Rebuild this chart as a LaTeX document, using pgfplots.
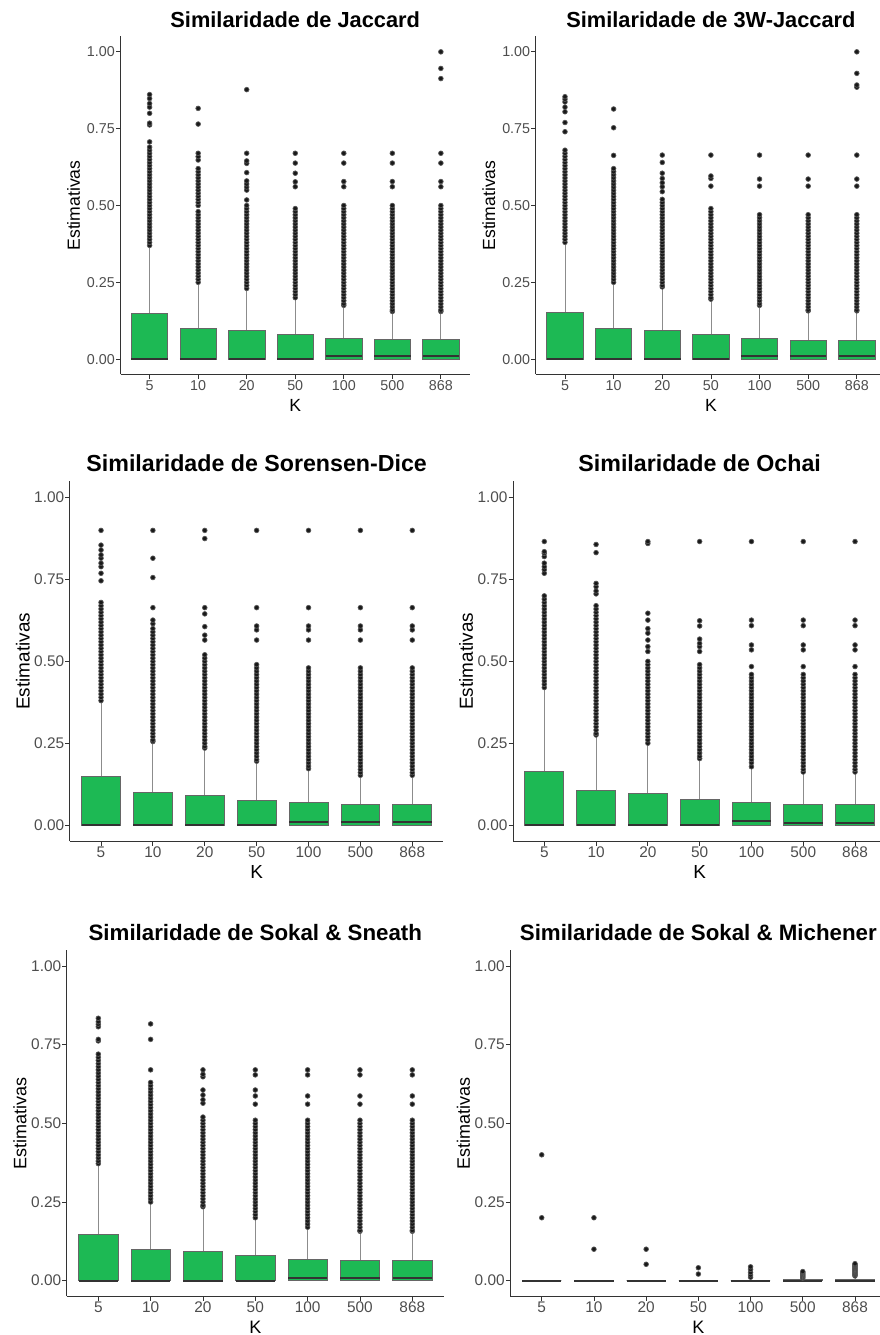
\documentclass[border=0pt]{standalone}
\usepackage{pgfplots}
\pgfplotsset{compat=1.18}
\usepgfplotslibrary{statistics}
\usepackage{fontspec}
\setmainfont{Liberation Sans}
\definecolor{boxgreen}{HTML}{1DB954}
\definecolor{tickgray}{HTML}{4D4D4D}

\pgfplotsset{
 bxs/.style={boxplot/draw direction=y, mark=*, mark size=2.35pt, mark options={draw=none, fill=black!90}, draw=black!65, line width=0.7pt,
   boxplot/box extend=0.75, boxplot/whisker extend=0,
   boxplot/every box/.style={fill=boxgreen, draw=black!60, line width=0.8pt},
   boxplot/every whisker/.style={draw=black!45, line width=0.8pt},
   boxplot/every median/.style={draw=black!80, line width=1.9pt}},
 panel/.style={scale only axis, xmin=0.4, xmax=7.6, ymin=-0.05, ymax=1.05,
   axis x line=bottom, axis y line=left,
   axis line style={-, line width=1.1pt, draw=black!80},
   tick align=outside, major tick length=4.5pt,
   tick style={draw=black!80, line width=0.8pt},
   xtick={1,2,3,4,5,6,7}, xticklabels={5,10,20,50,100,500,868},
   ytick={0,0.25,0.5,0.75,1}, yticklabels={0.00,0.25,0.50,0.75,1.00},
   /pgf/number format/assume math mode=true,
   ticklabel style={text=tickgray, inner sep=1pt},
   xlabel={K}, ylabel={Estimativas},
   every axis x label/.style={at={([yshift=-31pt]axis description cs:0.5,0)}, anchor=center},
   every axis y label/.style={at={([xshift=-47pt]axis description cs:0,0.5)}, anchor=center, rotate=90},
   every axis title/.style={at={(axis description cs:0.5,1)}, anchor=base, yshift=9.3pt},
 },
 rowA/.style={ticklabel style={font=\fontsize{14.3}{16}\selectfont}, label style={font=\fontsize{17.6}{20}\selectfont}, title style={font=\fontsize{21.8}{24}\selectfont\bfseries}},
 rowB/.style={ticklabel style={font=\fontsize{15.4}{17}\selectfont}, label style={font=\fontsize{18.9}{21}\selectfont}, title style={font=\fontsize{23.2}{26}\selectfont\bfseries}},
 rowC/.style={ticklabel style={font=\fontsize{15.4}{17}\selectfont}, label style={font=\fontsize{18}{20}\selectfont}, title style={font=\fontsize{22.3}{25}\selectfont\bfseries}},
}
\newcommand\bp[5]{\addplot[bxs, boxplot prepared={draw position=#1, lower whisker=0, lower quartile=0, median=#2, upper quartile=#3, upper whisker=#4}] table[row sep=\\, y index=0] {#5};}

\begin{document}
\begin{tikzpicture}
\useasboundingbox (0pt,0pt) rectangle (879pt,1335pt);

% ---------- Jaccard
\begin{axis}[panel, rowA, at={(120.5pt,960.5pt)}, anchor=south west, width=349.5pt, height=338pt, title={Similaridade de Jaccard}]
\bp{1}{0}{0.150}{0.366}{0.37\\0.38\\0.39\\0.40\\0.41\\0.42\\0.43\\0.44\\0.45\\0.46\\0.47\\0.48\\0.49\\0.50\\0.51\\0.52\\0.53\\0.54\\0.55\\0.56\\0.57\\0.58\\0.59\\0.60\\0.61\\0.62\\0.63\\0.64\\0.65\\0.66\\0.67\\0.68\\0.69\\0.707\\0.762\\0.768\\0.80\\0.82\\0.832\\0.848\\0.861\\}
\bp{2}{0}{0.100}{0.247}{0.25\\0.26\\0.27\\0.28\\0.29\\0.30\\0.31\\0.32\\0.33\\0.34\\0.35\\0.36\\0.37\\0.38\\0.39\\0.40\\0.41\\0.42\\0.43\\0.44\\0.45\\0.46\\0.47\\0.48\\0.50\\0.51\\0.52\\0.53\\0.54\\0.55\\0.56\\0.57\\0.58\\0.59\\0.60\\0.61\\0.62\\0.648\\0.659\\0.67\\0.765\\0.816\\}
\bp{3}{0}{0.093}{0.227}{0.23\\0.24\\0.25\\0.26\\0.27\\0.28\\0.29\\0.30\\0.31\\0.32\\0.33\\0.34\\0.35\\0.36\\0.37\\0.38\\0.39\\0.40\\0.41\\0.42\\0.43\\0.44\\0.45\\0.46\\0.47\\0.48\\0.49\\0.50\\0.518\\0.55\\0.56\\0.57\\0.58\\0.607\\0.637\\0.645\\0.67\\0.877\\}
\bp{4}{0}{0.079}{0.195}{0.20\\0.21\\0.22\\0.23\\0.24\\0.25\\0.26\\0.27\\0.28\\0.29\\0.30\\0.31\\0.32\\0.33\\0.34\\0.35\\0.36\\0.37\\0.38\\0.39\\0.40\\0.41\\0.42\\0.43\\0.44\\0.45\\0.46\\0.47\\0.48\\0.49\\0.561\\0.577\\0.605\\0.638\\0.67\\}
\bp{5}{0.009}{0.068}{0.170}{0.175\\0.18\\0.19\\0.20\\0.21\\0.22\\0.23\\0.24\\0.25\\0.26\\0.27\\0.28\\0.29\\0.30\\0.31\\0.32\\0.33\\0.34\\0.35\\0.36\\0.37\\0.38\\0.39\\0.40\\0.41\\0.42\\0.43\\0.44\\0.45\\0.46\\0.47\\0.48\\0.49\\0.50\\0.561\\0.578\\0.638\\0.67\\}
\bp{6}{0.009}{0.063}{0.150}{0.155\\0.16\\0.17\\0.18\\0.19\\0.20\\0.21\\0.22\\0.23\\0.24\\0.25\\0.26\\0.27\\0.28\\0.29\\0.30\\0.31\\0.32\\0.33\\0.34\\0.35\\0.36\\0.37\\0.38\\0.39\\0.40\\0.41\\0.42\\0.43\\0.44\\0.45\\0.46\\0.47\\0.48\\0.49\\0.50\\0.561\\0.578\\0.638\\0.67\\}
\bp{7}{0.009}{0.063}{0.150}{0.155\\0.16\\0.17\\0.18\\0.19\\0.20\\0.21\\0.22\\0.23\\0.24\\0.25\\0.26\\0.27\\0.28\\0.29\\0.30\\0.31\\0.32\\0.33\\0.34\\0.35\\0.36\\0.37\\0.38\\0.39\\0.40\\0.41\\0.42\\0.43\\0.44\\0.45\\0.46\\0.47\\0.48\\0.49\\0.50\\0.561\\0.578\\0.638\\0.67\\0.913\\0.946\\1.0\\}
\end{axis}

% ---------- 3W-Jaccard
\begin{axis}[panel, rowA, at={(535.8pt,960.5pt)}, anchor=south west, width=350.2pt, height=338pt, title={Similaridade de 3W-Jaccard}]
\bp{1}{0}{0.153}{0.377}{0.38\\0.39\\0.40\\0.41\\0.42\\0.43\\0.44\\0.45\\0.46\\0.47\\0.48\\0.49\\0.50\\0.51\\0.52\\0.53\\0.54\\0.55\\0.56\\0.57\\0.58\\0.59\\0.60\\0.61\\0.62\\0.63\\0.64\\0.65\\0.66\\0.67\\0.68\\0.74\\0.77\\0.805\\0.82\\0.837\\0.846\\0.854\\}
\bp{2}{0}{0.100}{0.247}{0.25\\0.26\\0.27\\0.28\\0.29\\0.30\\0.31\\0.32\\0.33\\0.34\\0.35\\0.36\\0.37\\0.38\\0.39\\0.40\\0.41\\0.42\\0.43\\0.44\\0.45\\0.46\\0.47\\0.48\\0.49\\0.50\\0.51\\0.52\\0.53\\0.54\\0.55\\0.56\\0.57\\0.58\\0.59\\0.60\\0.61\\0.62\\0.663\\0.753\\0.814\\}
\bp{3}{0}{0.093}{0.230}{0.235\\0.24\\0.25\\0.26\\0.27\\0.28\\0.29\\0.30\\0.31\\0.32\\0.33\\0.34\\0.35\\0.36\\0.37\\0.38\\0.39\\0.40\\0.41\\0.42\\0.43\\0.44\\0.45\\0.46\\0.47\\0.48\\0.49\\0.50\\0.51\\0.52\\0.545\\0.561\\0.574\\0.588\\0.605\\0.64\\0.664\\}
\bp{4}{0}{0.079}{0.190}{0.195\\0.20\\0.21\\0.22\\0.23\\0.24\\0.25\\0.26\\0.27\\0.28\\0.29\\0.30\\0.31\\0.32\\0.33\\0.34\\0.35\\0.36\\0.37\\0.38\\0.39\\0.40\\0.41\\0.42\\0.43\\0.44\\0.45\\0.46\\0.47\\0.48\\0.49\\0.563\\0.588\\0.596\\0.664\\}
\bp{5}{0.009}{0.068}{0.171}{0.175\\0.18\\0.19\\0.20\\0.21\\0.22\\0.23\\0.24\\0.25\\0.26\\0.27\\0.28\\0.29\\0.30\\0.31\\0.32\\0.33\\0.34\\0.35\\0.36\\0.37\\0.38\\0.39\\0.40\\0.41\\0.42\\0.43\\0.44\\0.45\\0.46\\0.47\\0.563\\0.586\\0.664\\}
\bp{6}{0.009}{0.062}{0.153}{0.157\\0.16\\0.17\\0.18\\0.19\\0.20\\0.21\\0.22\\0.23\\0.24\\0.25\\0.26\\0.27\\0.28\\0.29\\0.30\\0.31\\0.32\\0.33\\0.34\\0.35\\0.36\\0.37\\0.38\\0.39\\0.40\\0.41\\0.42\\0.43\\0.44\\0.45\\0.46\\0.47\\0.563\\0.586\\0.664\\}
\bp{7}{0.009}{0.062}{0.153}{0.157\\0.16\\0.17\\0.18\\0.19\\0.20\\0.21\\0.22\\0.23\\0.24\\0.25\\0.26\\0.27\\0.28\\0.29\\0.30\\0.31\\0.32\\0.33\\0.34\\0.35\\0.36\\0.37\\0.38\\0.39\\0.40\\0.41\\0.42\\0.43\\0.44\\0.45\\0.46\\0.47\\0.563\\0.586\\0.664\\0.885\\0.892\\0.93\\1.0\\}
\end{axis}

% ---------- Sorensen-Dice
\begin{axis}[panel, rowB, at={(69.9pt,493.6pt)}, anchor=south west, width=373.5pt, height=360.1pt, title={Similaridade de Sorensen-Dice}]
\bp{1}{0}{0.148}{0.372}{0.38\\0.39\\0.40\\0.41\\0.42\\0.43\\0.44\\0.45\\0.46\\0.47\\0.48\\0.49\\0.50\\0.51\\0.52\\0.53\\0.54\\0.55\\0.56\\0.57\\0.58\\0.59\\0.60\\0.61\\0.62\\0.63\\0.64\\0.65\\0.66\\0.67\\0.68\\0.746\\0.769\\0.789\\0.80\\0.815\\0.825\\0.84\\0.855\\0.90\\}
\bp{2}{0}{0.100}{0.250}{0.255\\0.26\\0.27\\0.28\\0.29\\0.30\\0.31\\0.32\\0.33\\0.34\\0.35\\0.36\\0.37\\0.38\\0.39\\0.40\\0.41\\0.42\\0.43\\0.44\\0.45\\0.46\\0.47\\0.48\\0.49\\0.50\\0.51\\0.52\\0.53\\0.54\\0.55\\0.56\\0.57\\0.58\\0.59\\0.60\\0.615\\0.626\\0.664\\0.756\\0.815\\0.90\\}
\bp{3}{0}{0.092}{0.231}{0.235\\0.24\\0.25\\0.26\\0.27\\0.28\\0.29\\0.30\\0.31\\0.32\\0.33\\0.34\\0.35\\0.36\\0.37\\0.38\\0.39\\0.40\\0.41\\0.42\\0.43\\0.44\\0.45\\0.46\\0.47\\0.48\\0.49\\0.50\\0.51\\0.52\\0.565\\0.58\\0.606\\0.645\\0.664\\0.875\\0.90\\}
\bp{4}{0}{0.076}{0.190}{0.195\\0.20\\0.21\\0.22\\0.23\\0.24\\0.25\\0.26\\0.27\\0.28\\0.29\\0.30\\0.31\\0.32\\0.33\\0.34\\0.35\\0.36\\0.37\\0.38\\0.39\\0.40\\0.41\\0.42\\0.43\\0.44\\0.45\\0.46\\0.47\\0.48\\0.49\\0.565\\0.596\\0.608\\0.664\\0.90\\}
\bp{5}{0.008}{0.068}{0.168}{0.172\\0.18\\0.19\\0.20\\0.21\\0.22\\0.23\\0.24\\0.25\\0.26\\0.27\\0.28\\0.29\\0.30\\0.31\\0.32\\0.33\\0.34\\0.35\\0.36\\0.37\\0.38\\0.39\\0.40\\0.41\\0.42\\0.43\\0.44\\0.45\\0.46\\0.47\\0.48\\0.565\\0.596\\0.608\\0.664\\0.90\\}
\bp{6}{0.008}{0.063}{0.148}{0.152\\0.16\\0.17\\0.18\\0.19\\0.20\\0.21\\0.22\\0.23\\0.24\\0.25\\0.26\\0.27\\0.28\\0.29\\0.30\\0.31\\0.32\\0.33\\0.34\\0.35\\0.36\\0.37\\0.38\\0.39\\0.40\\0.41\\0.42\\0.43\\0.44\\0.45\\0.46\\0.47\\0.48\\0.565\\0.596\\0.608\\0.664\\0.90\\}
\bp{7}{0.008}{0.063}{0.148}{0.152\\0.16\\0.17\\0.18\\0.19\\0.20\\0.21\\0.22\\0.23\\0.24\\0.25\\0.26\\0.27\\0.28\\0.29\\0.30\\0.31\\0.32\\0.33\\0.34\\0.35\\0.36\\0.37\\0.38\\0.39\\0.40\\0.41\\0.42\\0.43\\0.44\\0.45\\0.46\\0.47\\0.48\\0.565\\0.596\\0.608\\0.664\\0.90\\}
\end{axis}

% ---------- Ochai
\begin{axis}[panel, rowB, at={(513.2pt,493.6pt)}, anchor=south west, width=372.9pt, height=360.1pt, title={Similaridade de Ochai}]
\bp{1}{0}{0.165}{0.418}{0.42\\0.43\\0.44\\0.45\\0.46\\0.47\\0.48\\0.49\\0.50\\0.51\\0.52\\0.53\\0.54\\0.55\\0.56\\0.57\\0.58\\0.59\\0.60\\0.61\\0.62\\0.63\\0.64\\0.65\\0.66\\0.67\\0.68\\0.69\\0.70\\0.769\\0.78\\0.789\\0.80\\0.82\\0.83\\0.835\\0.866\\}
\bp{2}{0}{0.107}{0.270}{0.275\\0.28\\0.29\\0.30\\0.31\\0.32\\0.33\\0.34\\0.35\\0.36\\0.37\\0.38\\0.39\\0.40\\0.41\\0.42\\0.43\\0.44\\0.45\\0.46\\0.47\\0.48\\0.49\\0.50\\0.51\\0.52\\0.53\\0.54\\0.55\\0.56\\0.57\\0.58\\0.59\\0.60\\0.61\\0.62\\0.63\\0.64\\0.65\\0.66\\0.67\\0.706\\0.715\\0.728\\0.738\\0.832\\0.857\\}
\bp{3}{0}{0.097}{0.244}{0.25\\0.26\\0.27\\0.28\\0.29\\0.30\\0.31\\0.32\\0.33\\0.34\\0.35\\0.36\\0.37\\0.38\\0.39\\0.40\\0.41\\0.42\\0.43\\0.44\\0.45\\0.46\\0.47\\0.48\\0.49\\0.50\\0.53\\0.545\\0.565\\0.586\\0.60\\0.626\\0.647\\0.86\\0.866\\}
\bp{4}{0}{0.079}{0.199}{0.203\\0.21\\0.22\\0.23\\0.24\\0.25\\0.26\\0.27\\0.28\\0.29\\0.30\\0.31\\0.32\\0.33\\0.34\\0.35\\0.36\\0.37\\0.38\\0.39\\0.40\\0.41\\0.42\\0.43\\0.44\\0.45\\0.46\\0.47\\0.48\\0.49\\0.53\\0.545\\0.555\\0.568\\0.608\\0.624\\0.866\\}
\bp{5}{0.012}{0.069}{0.173}{0.178\\0.19\\0.20\\0.21\\0.22\\0.23\\0.24\\0.25\\0.26\\0.27\\0.28\\0.29\\0.30\\0.31\\0.32\\0.33\\0.34\\0.35\\0.36\\0.37\\0.38\\0.39\\0.40\\0.41\\0.42\\0.43\\0.44\\0.45\\0.46\\0.484\\0.535\\0.55\\0.609\\0.626\\0.866\\}
\bp{6}{0.007}{0.063}{0.158}{0.162\\0.17\\0.18\\0.19\\0.20\\0.21\\0.22\\0.23\\0.24\\0.25\\0.26\\0.27\\0.28\\0.29\\0.30\\0.31\\0.32\\0.33\\0.34\\0.35\\0.36\\0.37\\0.38\\0.39\\0.40\\0.41\\0.42\\0.43\\0.44\\0.45\\0.46\\0.484\\0.535\\0.55\\0.609\\0.626\\0.866\\}
\bp{7}{0.007}{0.063}{0.158}{0.162\\0.17\\0.18\\0.19\\0.20\\0.21\\0.22\\0.23\\0.24\\0.25\\0.26\\0.27\\0.28\\0.29\\0.30\\0.31\\0.32\\0.33\\0.34\\0.35\\0.36\\0.37\\0.38\\0.39\\0.40\\0.41\\0.42\\0.43\\0.44\\0.45\\0.46\\0.484\\0.535\\0.55\\0.609\\0.626\\0.866\\}
\end{axis}

% ---------- Sokal & Sneath
\begin{axis}[panel, rowC, at={(66.9pt,38.6pt)}, anchor=south west, width=376.8pt, height=346.1pt, title={Similaridade de Sokal \& Sneath}]
\bp{1}{0}{0.147}{0.368}{0.372\\0.38\\0.39\\0.40\\0.41\\0.42\\0.43\\0.44\\0.45\\0.46\\0.47\\0.48\\0.49\\0.50\\0.51\\0.52\\0.53\\0.54\\0.55\\0.56\\0.57\\0.58\\0.59\\0.60\\0.61\\0.62\\0.63\\0.64\\0.65\\0.66\\0.67\\0.68\\0.69\\0.70\\0.71\\0.72\\0.762\\0.767\\0.807\\0.815\\0.823\\0.834\\}
\bp{2}{0}{0.100}{0.246}{0.25\\0.26\\0.27\\0.28\\0.29\\0.30\\0.31\\0.32\\0.33\\0.34\\0.35\\0.36\\0.37\\0.38\\0.39\\0.40\\0.41\\0.42\\0.43\\0.44\\0.45\\0.46\\0.47\\0.48\\0.49\\0.50\\0.51\\0.52\\0.53\\0.54\\0.55\\0.56\\0.57\\0.58\\0.59\\0.60\\0.61\\0.62\\0.63\\0.67\\0.767\\0.816\\}
\bp{3}{0}{0.094}{0.230}{0.235\\0.24\\0.25\\0.26\\0.27\\0.28\\0.29\\0.30\\0.31\\0.32\\0.33\\0.34\\0.35\\0.36\\0.37\\0.38\\0.39\\0.40\\0.41\\0.42\\0.43\\0.44\\0.45\\0.46\\0.47\\0.48\\0.49\\0.50\\0.51\\0.52\\0.564\\0.575\\0.59\\0.606\\0.648\\0.656\\0.67\\}
\bp{4}{0}{0.080}{0.195}{0.20\\0.21\\0.22\\0.23\\0.24\\0.25\\0.26\\0.27\\0.28\\0.29\\0.30\\0.31\\0.32\\0.33\\0.34\\0.35\\0.36\\0.37\\0.38\\0.39\\0.40\\0.41\\0.42\\0.43\\0.44\\0.45\\0.46\\0.47\\0.48\\0.49\\0.50\\0.51\\0.561\\0.587\\0.606\\0.654\\0.67\\}
\bp{5}{0.008}{0.068}{0.166}{0.17\\0.18\\0.19\\0.20\\0.21\\0.22\\0.23\\0.24\\0.25\\0.26\\0.27\\0.28\\0.29\\0.30\\0.31\\0.32\\0.33\\0.34\\0.35\\0.36\\0.37\\0.38\\0.39\\0.40\\0.41\\0.42\\0.43\\0.44\\0.45\\0.46\\0.47\\0.48\\0.49\\0.50\\0.51\\0.561\\0.587\\0.654\\0.67\\}
\bp{6}{0.008}{0.064}{0.153}{0.157\\0.16\\0.17\\0.18\\0.19\\0.20\\0.21\\0.22\\0.23\\0.24\\0.25\\0.26\\0.27\\0.28\\0.29\\0.30\\0.31\\0.32\\0.33\\0.34\\0.35\\0.36\\0.37\\0.38\\0.39\\0.40\\0.41\\0.42\\0.43\\0.44\\0.45\\0.46\\0.47\\0.48\\0.49\\0.50\\0.51\\0.561\\0.587\\0.654\\0.67\\}
\bp{7}{0.008}{0.064}{0.153}{0.157\\0.16\\0.17\\0.18\\0.19\\0.20\\0.21\\0.22\\0.23\\0.24\\0.25\\0.26\\0.27\\0.28\\0.29\\0.30\\0.31\\0.32\\0.33\\0.34\\0.35\\0.36\\0.37\\0.38\\0.39\\0.40\\0.41\\0.42\\0.43\\0.44\\0.45\\0.46\\0.47\\0.48\\0.49\\0.50\\0.51\\0.561\\0.587\\0.654\\0.67\\}
\end{axis}

% ---------- Sokal & Michener
\begin{axis}[panel, rowC, at={(510.4pt,38.6pt)}, anchor=south west, width=375.9pt, height=346.1pt, title={Similaridade de Sokal \& Michener}]
\bp{1}{0}{0}{0}{0.20\\0.40\\}
\bp{2}{0}{0}{0}{0.10\\0.20\\}
\bp{3}{0}{0}{0}{0.052\\0.10\\}
\bp{4}{0}{0}{0}{0.021\\0.041\\}
\bp{5}{0}{0}{0}{0.011\\0.018\\0.026\\0.036\\0.044\\}
\bp{6}{0}{0.004}{0.006}{0.008\\0.011\\0.014\\0.017\\0.020\\0.023\\0.026\\0.029\\}
\bp{7}{0}{0.005}{0.010}{0.015\\0.018\\0.021\\0.024\\0.027\\0.030\\0.033\\0.036\\0.039\\0.042\\0.045\\0.048\\0.051\\0.054\\}
\end{axis}
\end{tikzpicture}
\end{document}
